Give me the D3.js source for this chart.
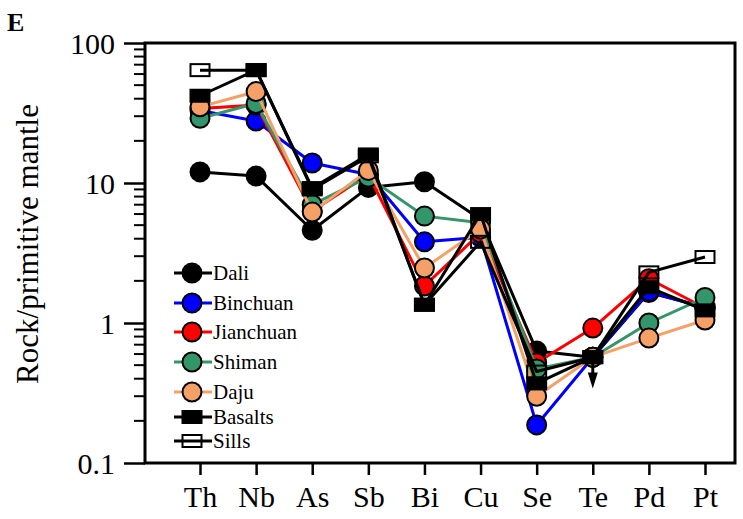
<!DOCTYPE html>
<html><head><meta charset="utf-8">
<script src="https://cdn.jsdelivr.net/npm/d3@7"></script>
<style>body{margin:0;background:#fff}svg{display:block}</style>
</head><body><svg id="c" width="743" height="519" font-family="Liberation Serif"></svg>
<script>
const categories = ["Th","Nb","As","Sb","Bi","Cu","Se","Te","Pd","Pt"];
const yTicks = [100, 10, 1, 0.1];
const yTickLabels = ["100","10","1","0.1"];
const seriesNames = ["Dali","Binchuan","Jianchuan","Shiman","Daju","Basalts","Sills"];
const dali      = [12, 11.2, 4.6, 9.3, 10.2, 5.5, 0.63, 0.57, 1.65, 1.3];
const binchuan  = [33, 27.7, 13.9, 11.5, 3.8, 4.1, 0.187, 0.57, 1.68, 1.28];
const jianchuan = [34, 36, 6.3, 11.5, 1.84, 4.4, 0.52, 0.92, 2.07, 1.28];
const shiman    = [29, 37, 7.0, 11, 5.8, 5.2, 0.47, 0.57, 1.0, 1.52];
const daju      = [35, 45, 6.2, 12.3, 2.47, 4.7, 0.30, 0.57, 0.78, 1.05];
const basalts   = [42, 64, 9.2, 16, 1.35, 6.0, 0.37, 0.57, 1.8, 1.23];
const sills     = [64, 64, 9.0, 15.5, 1.35, 3.8, 0.45, 0.57, 2.3, 2.96];
const teArrow = {cat: "Te", from: 0.57, to: 0.34};

const seriesValues = [dali, binchuan, jianchuan, shiman, daju, basalts, sills];
const colors = ["#000000","#0000ff","#ff0000","#33956a","#f5a066","#000000","#000000"];
const shapes = ["circle","circle","circle","circle","circle","rect","openrect"];
const FONT = "Liberation Serif";

const L = 145, R = 735, T = 43, B = 463;
const svg = d3.select("#c");
const x = d3.scalePoint().domain(categories).range([200, 705]);
const y = d3.scaleLog().domain([0.1, 100]).range([B, T]);

// frame
svg.append("rect").attr("x", L).attr("y", T).attr("width", R - L).attr("height", B - T)
  .attr("fill", "none").attr("stroke", "#000").attr("stroke-width", 3);

// y axis
const minor = [];
[0.1, 1, 10].forEach(d => { for (let k = 2; k <= 9; k++) minor.push(d * k); });
svg.append("g").selectAll("line").data(minor).join("line")
  .attr("x1", L - 11).attr("x2", L).attr("y1", d => y(d)).attr("y2", d => y(d))
  .attr("stroke", "#000").attr("stroke-width", 2);
const yg = svg.append("g").attr("transform", `translate(${L},0)`)
  .call(d3.axisLeft(y).tickValues(yTicks).tickFormat((d, i) => yTickLabels[i]).tickSize(21).tickPadding(9));
yg.attr("font-family", FONT);
yg.select(".domain").remove();
yg.selectAll(".tick line").attr("stroke", "#000").attr("stroke-width", 2.5);
yg.selectAll(".tick text").attr("font-size", 30).attr("dy", "0.34em");

// x axis
const xg = svg.append("g").attr("transform", `translate(0,${B})`)
  .call(d3.axisBottom(x).tickSize(12).tickPadding(11));
xg.attr("font-family", FONT);
xg.select(".domain").remove();
xg.selectAll(".tick line").attr("stroke", "#000").attr("stroke-width", 2.5);
xg.selectAll(".tick text").attr("font-size", 30);

// y label
svg.append("text").attr("transform", "translate(38,244) rotate(-90)").attr("font-family", FONT)
  .attr("text-anchor", "middle").attr("font-size", 31).text("Rock/primitive mantle");
// panel letter
svg.append("text").attr("x", 7).attr("y", 31).attr("font-family", FONT).attr("font-size", 26).attr("font-weight", "bold").text("E");

const line = d3.line().x((d, i) => x(categories[i])).y(d => y(d));
const RW = 19, RH = 12, CR = 9.5;

function marker(g, shape, color, cx, cy) {
  if (shape === "circle") {
    g.append("circle").attr("cx", cx).attr("cy", cy).attr("r", CR)
      .attr("fill", color).attr("stroke", "#000").attr("stroke-width", 2);
  } else {
    g.append("rect").attr("x", cx - RW / 2).attr("y", cy - RH / 2).attr("width", RW).attr("height", RH)
      .attr("fill", shape === "rect" ? "#000" : "none").attr("stroke", "#000").attr("stroke-width", 2);
  }
}

seriesValues.forEach((vals, s) => {
  const g = svg.append("g");
  g.append("path").datum(vals).attr("d", line).attr("fill", "none")
    .attr("stroke", colors[s]).attr("stroke-width", 3).attr("stroke-linejoin", "round");
  vals.forEach((v, i) => marker(g, shapes[s], colors[s], x(categories[i]), y(v)));
});

// Te arrow (below detection)
const ax = x(teArrow.cat);
svg.append("line").attr("x1", ax).attr("x2", ax).attr("y1", y(teArrow.from) + 6).attr("y2", y(teArrow.to) - 12)
  .attr("stroke", "#000").attr("stroke-width", 3);
svg.append("path")
  .attr("d", `M${ax - 5},${y(teArrow.to) - 16} L${ax + 5},${y(teArrow.to) - 16} L${ax},${y(teArrow.to)} Z`)
  .attr("fill", "#000");

// legend
const legY = [273, 303, 332, 362, 392, 417, 441];
seriesNames.forEach((n, s) => {
  const g = svg.append("g");
  const yy = legY[s];
  g.append("line").attr("x1", 174).attr("x2", 212).attr("y1", yy).attr("y2", yy)
    .attr("stroke", colors[s]).attr("stroke-width", 3);
  marker(g, shapes[s], colors[s], 192, yy);
  g.append("text").attr("x", 213).attr("y", yy).attr("dy", "0.35em").attr("font-family", FONT)
    .attr("font-size", 21).text(n);
});
</script></body></html>
